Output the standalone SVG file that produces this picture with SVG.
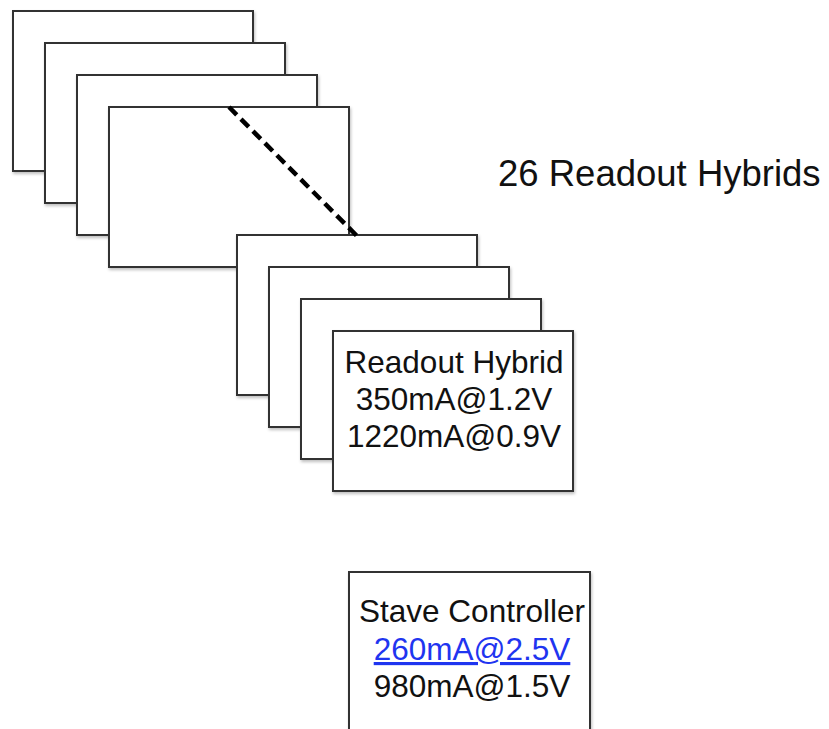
<svg xmlns="http://www.w3.org/2000/svg" width="829" height="729" viewBox="0 0 829 729">
<defs>
<filter id="sh" x="-5%" y="-5%" width="115%" height="115%">
<feDropShadow dx="1" dy="2" stdDeviation="1.5" flood-color="#000" flood-opacity="0.25"/>
</filter>
</defs>
<style>
.card{fill:#fff;stroke:#333;stroke-width:2;filter:url(#sh)}
.t{font-family:"Liberation Sans",Arial,sans-serif;font-size:31.5px;fill:#111;text-anchor:middle}
.link{fill:#1f35f0;text-decoration:underline}
</style>
<rect width="829" height="729" fill="#fff"/>
<g id="hybrid-1"><rect class="card" x="13" y="11" width="240" height="160"/></g>
<g id="hybrid-2"><rect class="card" x="45" y="43" width="240" height="160"/></g>
<g id="hybrid-3"><rect class="card" x="77" y="75" width="240" height="160"/></g>
<g id="hybrid-4"><rect class="card" x="109" y="107" width="240" height="160"/></g>
<g id="hybrid-5"><rect class="card" x="237" y="235" width="240" height="160"/></g>
<g id="hybrid-6"><rect class="card" x="269" y="267" width="240" height="160"/></g>
<g id="hybrid-7"><rect class="card" x="301" y="299" width="240" height="160"/></g>
<g id="hybrid-8"><rect class="card" x="333" y="331" width="240" height="160"/>
<text class="t" x="454" y="373">Readout Hybrid</text>
<text class="t" x="454" y="410">350mA@1.2V</text>
<text class="t" x="454" y="447">1220mA@0.9V</text>
</g>
<g id="connectors">
<line x1="229" y1="107" x2="357" y2="236" stroke="#000" stroke-width="4.5" stroke-dasharray="11,6"/>
</g>
<g id="label"><text x="498" y="186" style="font-family:'Liberation Sans',Arial,sans-serif;font-size:36.5px;fill:#111">26 Readout Hybrids</text></g>
<g id="stave-controller"><rect class="card" x="349" y="572" width="241" height="170"/>
<text class="t" x="472" y="622">Stave Controller</text>
<text class="t link" x="472" y="660">260mA@2.5V</text>
<text class="t" x="472" y="697">980mA@1.5V</text>
</g>
</svg>
